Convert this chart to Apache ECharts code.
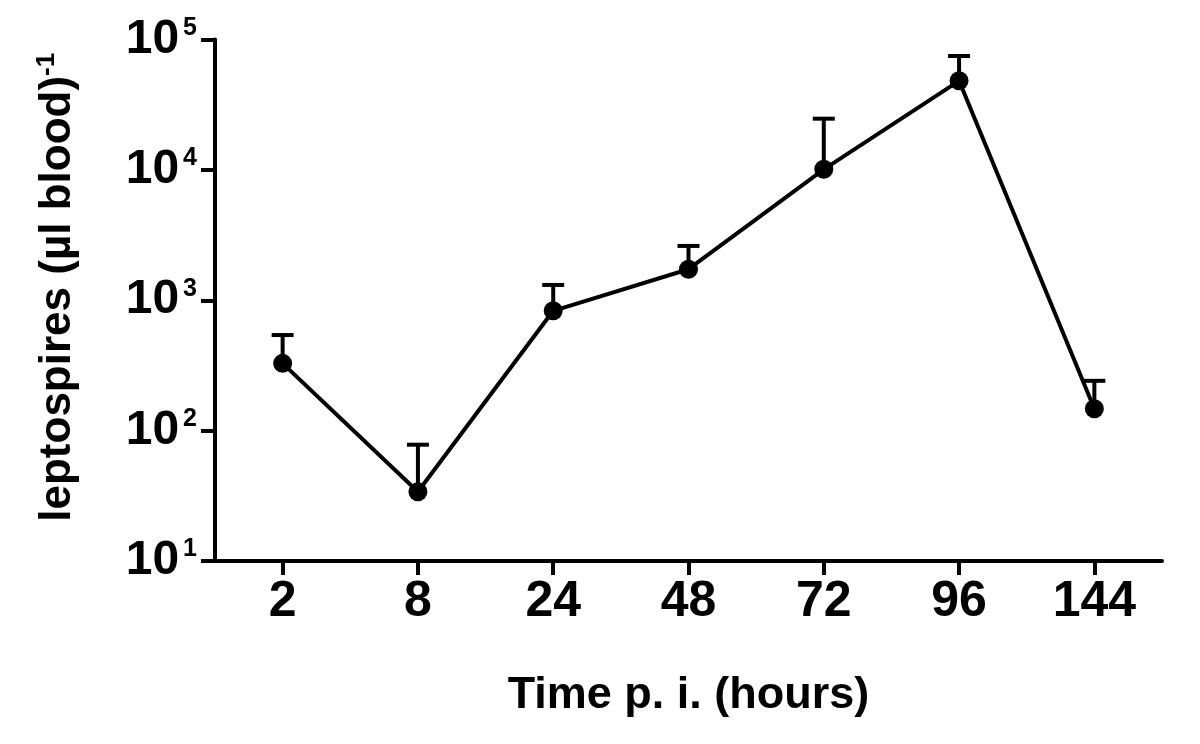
<!DOCTYPE html>
<html>
<head>
<meta charset="utf-8">
<script src="https://cdn.jsdelivr.net/npm/echarts@6/dist/echarts.min.js"></script>
<style>
html,body{margin:0;padding:0;background:#fff;}
#chart{width:1200px;height:744px;}
</style>
</head>
<body>
<div id="chart"></div>
<script>
// Data
const categories = ['2', '8', '24', '48', '72', '96', '144'];
const meanValues = [328, 34, 830, 1730, 10100, 48200, 147];
const upperValues = [541, 78, 1310, 2610, 24700, 74700, 241];
const xTitle = 'Time p. i. (hours)';
const yTitleMain = 'leptospires (µl blood)';
const yTitleSup = '-1';

const FONT = '"Liberation Sans", Arial, Helvetica, sans-serif';
const chart = echarts.init(document.getElementById('chart'), null, {renderer: 'canvas'});

const errData = categories.map((c, i) => [i, meanValues[i], upperValues[i]]);

const option = {
  backgroundColor: '#fff',
  animation: false,
  grid: {left: 215, right: 38, top: 39.5, bottom: 183, containLabel: false, outerBoundsMode: 'none'},
  xAxis: {
    type: 'category',
    data: categories,
    boundaryGap: true,
    axisLine: {show: true, lineStyle: {color: '#000', width: 4}},
    axisTick: {show: true, alignWithLabel: true, length: 14, lineStyle: {color: '#000', width: 4}},
    axisLabel: {color: '#000', fontSize: 50, fontWeight: 'bold', fontFamily: FONT, margin: 16},
    splitLine: {show: false},
    name: xTitle,
    nameLocation: 'middle',
    nameGap: 112,
    nameTextStyle: {color: '#000', fontSize: 45, fontWeight: 'bold', fontFamily: FONT}
  },
  yAxis: {
    type: 'log',
    logBase: 10,
    min: 10,
    max: 100000,
    axisLine: {show: true, lineStyle: {color: '#000', width: 4}},
    axisTick: {show: true, length: 14, lineStyle: {color: '#000', width: 4}},
    minorTick: {show: false},
    splitLine: {show: false},
    axisLabel: {
      margin: 18,
      formatter: function (v) {
        const e = Math.round(Math.log10(v));
        return '{b|10}{s|' + e + '}';
      },
      rich: {
        b: {color: '#000', fontSize: 48, fontWeight: 'bold', fontFamily: FONT, lineHeight: 48},
        s: {color: '#000', fontSize: 25, fontWeight: 'bold', fontFamily: FONT, verticalAlign: 'top', lineHeight: 28, padding: [0, 0, 0, 4]}
      }
    },
    name: '{a|' + yTitleMain + '}{s|' + yTitleSup + '}',
    nameLocation: 'middle',
    nameRotate: 90,
    nameGap: 133,
    nameTextStyle: {
      rich: {
        a: {color: '#000', fontSize: 44, fontWeight: 'bold', fontFamily: FONT, lineHeight: 48, padding: [0, 0, 0, 26]},
        s: {color: '#000', fontSize: 26, fontWeight: 'bold', fontFamily: FONT, verticalAlign: 'top', lineHeight: 28}
      }
    }
  },
  series: [
    {
      type: 'custom',
      name: 'error',
      data: errData,
      encode: {x: 0, y: [1, 2]},
      z: 1,
      renderItem: function (params, api) {
        const xi = api.value(0);
        const p0 = api.coord([xi, api.value(1)]);
        const p1 = api.coord([xi, api.value(2)]);
        const hw = 11;
        return {
          type: 'group',
          children: [
            {type: 'line', shape: {x1: p0[0], y1: p0[1], x2: p1[0], y2: p1[1]}, style: {stroke: '#000', lineWidth: 4}},
            {type: 'line', shape: {x1: p1[0] - hw, y1: p1[1], x2: p1[0] + hw, y2: p1[1]}, style: {stroke: '#000', lineWidth: 4}}
          ]
        };
      }
    },
    {
      type: 'line',
      name: 'mean',
      data: meanValues,
      z: 3,
      symbol: 'circle',
      symbolSize: 19,
      showSymbol: true,
      lineStyle: {color: '#000', width: 4},
      itemStyle: {color: '#000', borderWidth: 0},
      emphasis: {disabled: true}
    }
  ]
};
chart.setOption(option);
</script>
</body>
</html>
